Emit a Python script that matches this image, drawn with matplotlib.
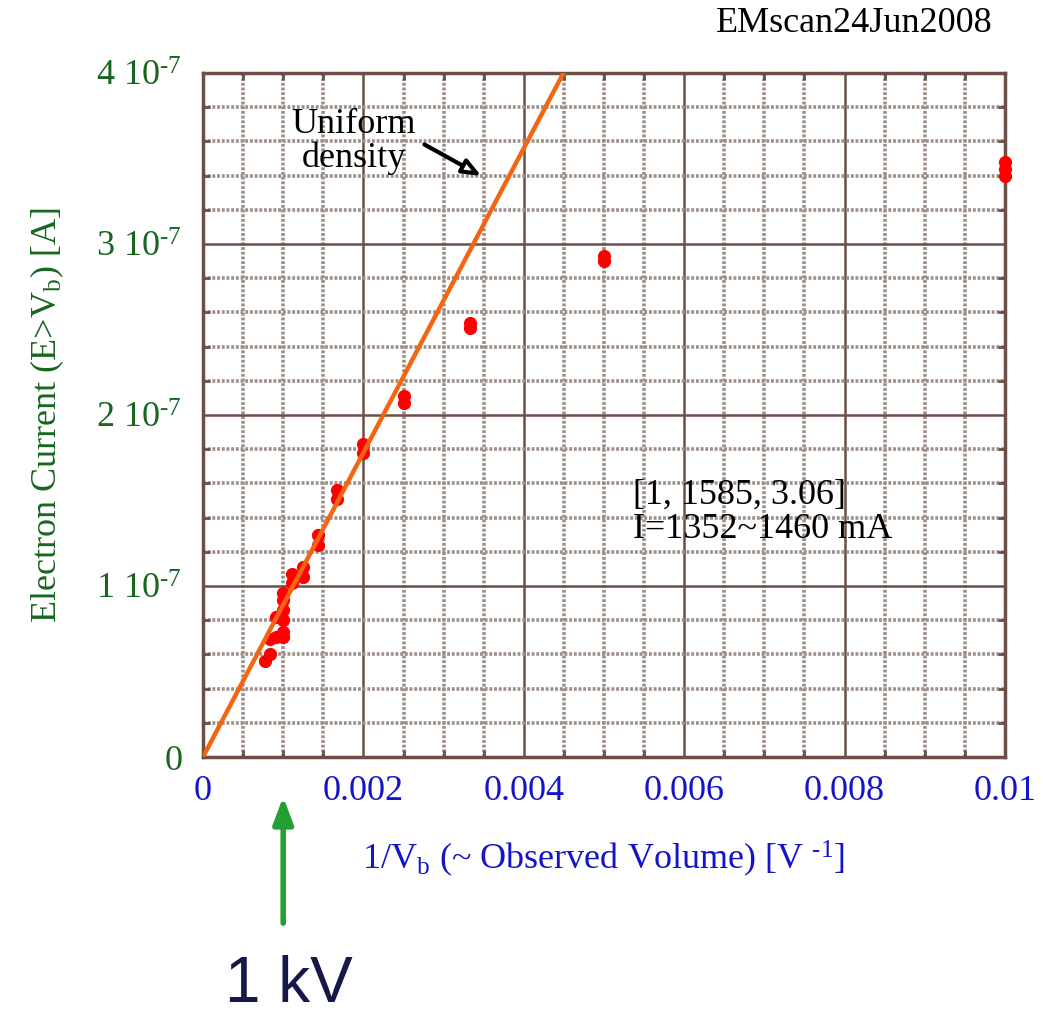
import matplotlib
matplotlib.use("Agg")
import matplotlib.pyplot as plt
from matplotlib.ticker import MultipleLocator, FixedLocator
import numpy as np

plt.rcParams["font.family"] = ["Liberation Serif", "DejaVu Serif"]
plt.rcParams["mathtext.fontset"] = "custom"
plt.rcParams["mathtext.rm"] = "Liberation Serif"
plt.rcParams["mathtext.it"] = "Liberation Serif:italic"

# bias voltage [V] and measured electron current above bias [1e-7 A]
bias_voltage = [100, 100, 100,
                200, 200,
                300, 300,
                400, 400,
                500, 500,
                600, 600,
                700, 700,
                800, 800,
                900, 900,
                1000, 1000, 1000, 1000, 1000, 1000,
                1100, 1100,
                1200, 1200,
                1300]
current_e7 = [3.48, 3.44, 3.40,
              2.93, 2.90,
              2.54, 2.51,
              2.11, 2.07,
              1.83, 1.78,
              1.56, 1.51,
              1.30, 1.24,
              1.11, 1.05,
              1.07, 1.02,
              0.96, 0.92, 0.86, 0.80, 0.73, 0.70,
              0.82, 0.70,
              0.69, 0.60,
              0.56]

# uniform density expectation: I = slope * (1/Vb)
uniform_slope = 8.9e-5
uniform_x = [0.0, 0.0046]

y_ticks = [0, 1e-7, 2e-7, 3e-7, 4e-7]
y_tick_labels = ["0", r"1 10$^{\text{-7}}$", r"2 10$^{\text{-7}}$",
                 r"3 10$^{\text{-7}}$", r"4 10$^{\text{-7}}$"]
x_ticks = [0, 0.002, 0.004, 0.006, 0.008, 0.01]
x_tick_labels = ["0", "0.002", "0.004", "0.006", "0.008", "0.01"]

brown = "#6b4f47"
grey = "#9e8f89"
green = "#17661f"
blue = "#1414c8"

fig = plt.figure(figsize=(10.43, 10.13), dpi=100)
ax = fig.add_axes([203 / 1043, 256 / 1013, 802 / 1043, 684 / 1013])

ax.set_xlim(0, 0.01)
ax.set_ylim(0, 4e-7)

ax.xaxis.set_major_locator(FixedLocator(x_ticks))
ax.xaxis.set_minor_locator(MultipleLocator(0.0005))
ax.yaxis.set_major_locator(FixedLocator(y_ticks))
ax.yaxis.set_minor_locator(MultipleLocator(0.2e-7))
ax.set_xticklabels(x_tick_labels)
ax.set_yticklabels(y_tick_labels)

ax.grid(which="minor", color=grey, linestyle=(0, (0.8, 0.5)), linewidth=2.6, zorder=0)
ax.grid(which="major", color=brown, linestyle="-", linewidth=1.8, zorder=0)
ax.set_axisbelow(True)

for s in ax.spines.values():
    s.set_color(brown)
    s.set_linewidth(2.5)

ax.tick_params(which="both", direction="in", top=True, right=True, color=brown)
ax.tick_params(which="minor", length=5, width=2)
ax.tick_params(which="major", length=0, width=2)
ax.tick_params(axis="x", which="major", labelsize=26, labelcolor=blue, pad=13)
ax.tick_params(axis="y", which="major", labelsize=26, labelcolor=green, pad=15)

# measurements
inv_vb = 1.0 / np.array(bias_voltage, dtype=float)
ax.plot(inv_vb, np.array(current_e7) * 1e-7, "o", color="#ff0000",
        markersize=9.5, markeredgewidth=0, zorder=4, clip_on=False)

# uniform density line
ux = np.array(uniform_x)
ax.plot(ux, uniform_slope * ux, color="#f26612", linewidth=3.2, zorder=5)

ax.annotate("", xy=(0.00350, 3.39e-7), xytext=(0.00273, 3.59e-7),
            arrowprops=dict(arrowstyle="-|>,head_length=1.1,head_width=0.45",
                            lw=3, color="black", fc="white"))
ax.text(0.00188, 3.6e-7, "Uniform\ndensity", fontsize=26, ha="center",
        va="center", linespacing=1.05, zorder=6)

ax.text(0.00536, 1.43e-7, "[1, 1585, 3.06]\nI=1352~1460 mA", fontsize=26,
        ha="left", va="center", linespacing=1.05, zorder=6)

ax.set_xlabel(r"1/V$_{\text{b}}$ (~ Observed Volume) [V $^{\text{-1}}$]",
              fontsize=26, color=blue, labelpad=22)
ax.set_ylabel(r"Electron Current (E>V$_{\text{b}}$) [A]",
              fontsize=26, color=green, labelpad=22)

fig.text(993 / 1043, 1 - 24 / 1013, "EMscan24Jun2008", fontsize=26,
         ha="right", va="center")

# 1 kV marker below the axis
xt = ax.get_xaxis_transform()
ax.annotate("", xy=(0.001, -0.054), xytext=(0.001, -0.247),
            xycoords=xt, textcoords=xt,
            arrowprops=dict(arrowstyle="-|>,head_length=1.6,head_width=0.6",
                            lw=4, color="#22a032"))
ax.text(0.00107, -0.333, "1 kV", transform=xt, fontsize=46,
        family="Liberation Sans", color="#16184a", ha="center", va="center")

fig.savefig("out.png", dpi=100)
